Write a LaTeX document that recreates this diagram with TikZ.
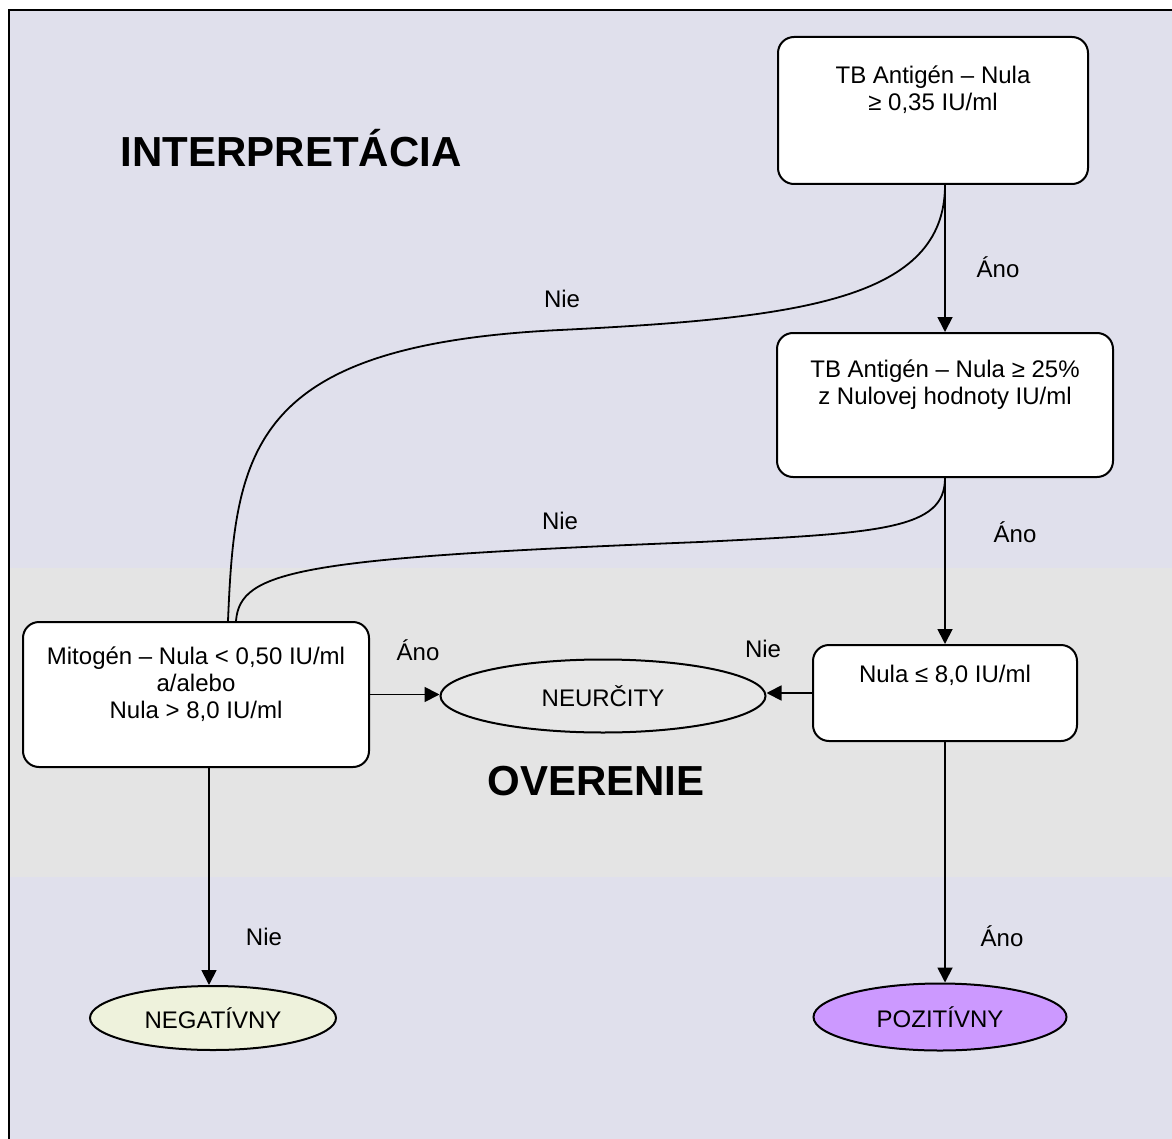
\documentclass[tikz,border=0pt]{standalone}
\usepackage{fontspec}
\setmainfont{Liberation Sans}
\usepackage{tikz}
\usetikzlibrary{positioning}
\usetikzlibrary{shapes}
\usetikzlibrary{arrows.meta}

\definecolor{lavender}{RGB}{224,224,236}
\definecolor{bandgray}{RGB}{228,228,228}
\definecolor{indgray}{RGB}{231,231,231}
\definecolor{neggreen}{RGB}{238,242,220}
\definecolor{pospurple}{RGB}{204,153,255}

\newcommand{\condtext}[4]{\parbox[c][#1][t]{#2}{\centering\vspace*{#3}#4}}

\begin{document}
\begin{tikzpicture}[x=0.5pt, y=-0.5pt, font=\fontsize{12}{13.5}\selectfont,
  cond/.style={draw, line width=1pt, rounded corners=8pt, fill=white, inner sep=0pt},
  result/.style={ellipse, draw, line width=1pt, inner sep=0pt},
  arr/.style={line width=0.9pt, -{Triangle[length=7.5pt, width=7.5pt]}},
  link/.style={line width=0.9pt},
  lbl/.style={anchor=base, inner sep=0pt},
  title/.style={anchor=base, inner sep=0pt, font=\fontsize{21}{25}\selectfont\bfseries}]
%background
\useasboundingbox (0,0) rectangle (1172,1139);
\fill[lavender] (9,10) rectangle (1172,1139);
\fill[bandgray] (10,568) rectangle (1172,877);
\draw[line width=1pt] (9,1139) -- (9,10) -- (1172,10);
%titles
\node[title] (interp) at (291,167) {INTERPRETÁCIA};
\node[title] (verif) at (596,795) {OVERENIE};
%tests
\node[cond] (zero) at (933,110.5) {\condtext{73.5pt}{155pt}{14.6pt}{TB Antigén – Nula\\ ≥ 0,35 IU/ml}};
\node[cond] (ratio) at (945,405) {\condtext{72pt}{168pt}{13.3pt}{TB Antigén – Nula ≥ 25\%\\ z Nulovej hodnoty IU/ml}};
\node[cond] (mitogen) at (196,694.5) {\condtext{72.5pt}{173pt}{12.3pt}{Mitogén – Nula < 0,50 IU/ml\\ a/alebo\\ Nula > 8,0 IU/ml}};
\node[cond] (nil) at (945,693) {\condtext{48pt}{132pt}{10pt}{Nula ≤ 8,0 IU/ml}};
%results
\node[result, fill=indgray, minimum width=162.5pt, minimum height=36.5pt] (indet) at (603,696) {NEURČITY};
\node[result, fill=neggreen, minimum width=123pt, minimum height=32pt] (neg) at (213,1018) {NEGATÍVNY};
\node[result, fill=pospurple, minimum width=126.5pt, minimum height=33.5pt] (pos) at (940,1017) {POZITÍVNY};
%yes arrows
\draw[arr] (zero.south -| ratio.north) -- (ratio.north);
\draw[arr] (ratio.south) -- (nil.north);
\draw[arr] (mitogen.east) -- (mitogen.east -| indet.west);
\draw[arr] (nil.south) -- (nil.south |- pos.north);
%no arrows
\draw[arr] (nil.west) -- (nil.west -| indet.east);
\draw[arr] ([xshift=-2pt]neg.north |- mitogen.south) -- ([xshift=-2pt]neg.north);
%no branches to mitogen
\coordinate (bend1) at (560,330);
\coordinate (bend2) at (700,542);
\draw[link] (zero.south -| ratio.north) .. controls (945,300) and (800,318) .. (bend1) .. controls (250,345) and (235,450) .. ([xshift=16pt]mitogen.north);
\draw[link] (ratio.south) .. controls (945,530) and (880,533) .. (bend2) .. controls (300,558) and (240,570) .. ([xshift=20pt]mitogen.north);
%labels
\node[lbl] (yes1) at (998,278) {Áno};
\node[lbl] (no1) at (562,307) {Nie};
\node[lbl] (yes2) at (1015,542) {Áno};
\node[lbl] (no2) at (560,529) {Nie};
\node[lbl] (yes3) at (418,660) {Áno};
\node[lbl] (no3) at (763,657) {Nie};
\node[lbl] (no4) at (264,945) {Nie};
\node[lbl] (yes4) at (1002,946) {Áno};
\end{tikzpicture}
\end{document}
